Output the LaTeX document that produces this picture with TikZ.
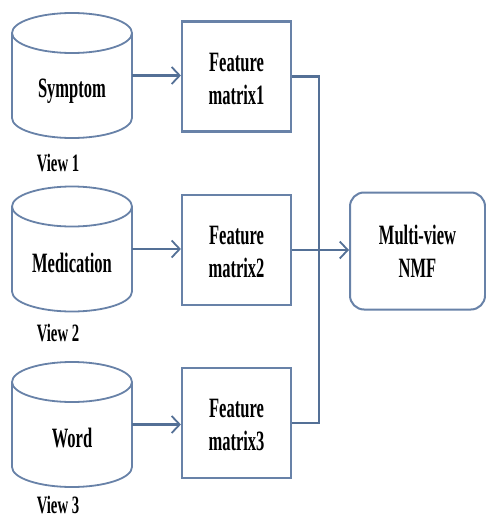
\documentclass[tikz,border=0pt]{standalone}
\usepackage{fontspec}
\setmainfont{Liberation Serif}[FakeStretch=0.59]
\usetikzlibrary{arrows.meta}
\definecolor{lineblue}{RGB}{84,112,150}
\definecolor{boxblue}{RGB}{104,130,168}
\tikzset{
  txt/.style={font=\bfseries\fontsize{28}{33}\selectfont, align=center, text=black, inner sep=0pt},
  vlab/.style={font=\bfseries\fontsize{25}{30}\selectfont, text=black, inner sep=0pt},
  fbox/.style={draw=boxblue, line width=2.2pt, minimum width=109pt, minimum height=110pt, inner sep=0pt, fill=white},
  nmfbox/.style={draw=boxblue, line width=2pt, rounded corners=14pt, minimum width=135pt, minimum height=117pt, fill=white},
  cylbody/.style={minimum width=120pt, minimum height=125pt, inner sep=0pt},
  cyldraw/.style={draw=boxblue, line width=1.8pt, fill=white},
  conn/.style={draw=lineblue, line width=2.2pt},
  arr/.style={conn, -{Straight Barb[length=8pt,width=17pt,line width=1.8pt]}},
  cyl/.pic={
    \draw[cyldraw] (-60,-42.5) -- (-60,42.5) arc[start angle=180,end angle=0,x radius=60,y radius=20] -- (60,-42.5);
    \draw[cyldraw] (0,-42.5) ellipse[x radius=60,y radius=20];
  }
}
\begin{document}
\begin{tikzpicture}[x=1pt,y=-1pt]
\useasboundingbox (0,0) rectangle (486,519);
\fill[white] (0,0) rectangle (486,519);

% cylinders
\pic at (72,75.5) {cyl};
\node[cylbody] (c1) at (72,75.5) {};
\node[txt] (t1) at (72,91) {Symptom};
\node[vlab] (v1) at (58,163) {View 1};

\pic at (72,249) {cyl};
\node[cylbody] (c2) at (72,249) {};
\node[txt] (t2) at (72,263) {Medication};
\node[vlab] (v2) at (58,333) {View 2};

\pic at (72,424.5) {cyl};
\node[cylbody] (c3) at (72,424.5) {};
\node[txt] (t3) at (72,438) {Word};
\node[vlab] (v3) at (58,505) {View 3};

% feature boxes
\node[fbox] (b1) at (236.5,76.5) {};
\node[txt] at (236.5,79) {Feature\\matrix1};
\node[fbox] (b2) at (236.5,250) {};
\node[txt] at (236.5,252) {Feature\\matrix2};
\node[fbox] (b3) at (236.5,423) {};
\node[txt] at (236.5,425) {Feature\\matrix3};

% NMF box
\node[nmfbox] (n) at (417.5,251) {};
\node[txt] at (n) {Multi-view\\NMF};

% arrows cylinders -> boxes
\draw[arr] (c1.east) -- (c1.east -| b1.west);
\draw[arr] (c2.east) -- (c2.east -| b2.west);
\draw[arr] (c3.east) -- (c3.east -| b3.west);

% merge lines
\coordinate (j1) at (319,76.5);
\coordinate (j3) at (319,423);
\draw[conn] (b1.east) -- (j1) -- (j3) -- (b3.east);
\draw[arr] (b2.east) -- (b2.east -| n.west);
\end{tikzpicture}
\end{document}
